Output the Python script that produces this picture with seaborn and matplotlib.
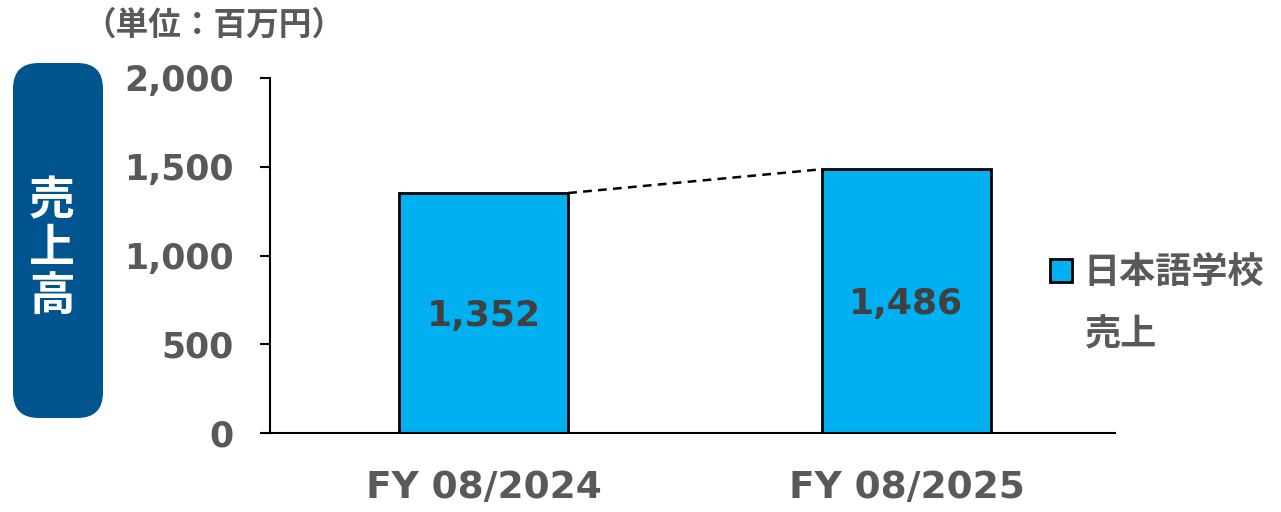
import matplotlib
matplotlib.use("Agg")
import matplotlib.pyplot as plt
import seaborn as sns
import pandas as pd
from matplotlib.patches import FancyBboxPatch, Patch

categories = ["FY 08/2024", "FY 08/2025"]
sales = [1352, 1486]
yticks = [0, 500, 1000, 1500, 2000]
ytick_labels = ["0", "500", "1,000", "1,500", "2,000"]
legend_label = "日本語学校"
legend_label2 = "売上"
side_label = ["売", "上", "高"]
unit_label = "（単位：百万円）"

sns.set_theme(style="white")
plt.rcParams['font.family'] = ['DejaVu Sans', 'Noto Sans CJK JP']

gray = "#595959"
bar_color = "#00B0F0"
box_color = "#00558F"

df = pd.DataFrame({"cat": categories, "val": sales})

fig = plt.figure(figsize=(12.81, 5.12), dpi=100)
ax = fig.add_axes([270/1281, 1-433/512, (1115-270)/1281, (433-78)/512])

sns.barplot(data=df, x="cat", y="val", ax=ax, color=bar_color, width=0.4,
            edgecolor="black", linewidth=2, saturation=1)

ax.set_xlim(-0.505, 1.493)
ax.set_ylim(0, 2000)
ax.set_yticks(yticks)
ax.set_yticklabels(ytick_labels)
ax.set_xlabel("")
ax.set_ylabel("")

for s in ["top", "right"]:
    ax.spines[s].set_visible(False)
for s in ["left", "bottom"]:
    ax.spines[s].set_color("black")
    ax.spines[s].set_linewidth(1.5)

ax.tick_params(axis="y", direction="out", length=7, width=1.5, color="black",
               pad=19, labelsize=25, labelcolor=gray, left=True)
ax.tick_params(axis="x", length=0, pad=27, labelsize=27, labelcolor=gray)
for lab in ax.get_yticklabels() + ax.get_xticklabels():
    lab.set_fontweight("bold")

# bar value labels
for i, v in enumerate(sales):
    ax.text(i, v / 2 - 15, f"{v:,}", ha="center", va="center", fontsize=26,
            fontweight="bold", color="#404040")

# dashed connector between bar tops
ax.plot([0 + 0.2, 1 - 0.2], [sales[0], sales[1]], color="black",
        linestyle=(0, (3.5, 2.5)), linewidth=1.8)

# legend
handle = Patch(facecolor=bar_color, edgecolor="black", linewidth=2)
leg = fig.legend([handle], [legend_label], loc="center left",
                 bbox_to_anchor=(1050/1281, 1-273/512), frameon=False,
                 prop={"family": ["Noto Sans CJK JP"], "weight": "bold", "size": 26},
                 handlelength=0.62, handleheight=0.62, handletextpad=0.3,
                 borderpad=0, borderaxespad=0)
for t in leg.get_texts():
    t.set_color(gray)
fig.text(1085/1281, 1-335/512, legend_label2, ha="left", va="center", color=gray,
         fontsize=26, fontweight="bold", family=["Noto Sans CJK JP"])

# side box
box = FancyBboxPatch((13/1281, 1-418/512), (103-13)/1281, (418-63)/512,
                     boxstyle="round,pad=0,rounding_size=0.02",
                     transform=fig.transFigure, facecolor=box_color,
                     edgecolor="none", mutation_aspect=1281/512)
fig.patches.append(box)
for ch, yc in zip(side_label, [201, 249, 297]):
    fig.text(52/1281, 1-yc/512, ch, ha="center", va="center", color="white",
             fontsize=33, fontweight="bold", family=["Noto Sans CJK JP"])

fig.text(83/1281, 1-25/512, unit_label, ha="left", va="center", color=gray,
         fontsize=23.5, fontweight="bold", family=["Noto Sans CJK JP"])

fig.savefig("out.png", dpi=100)
